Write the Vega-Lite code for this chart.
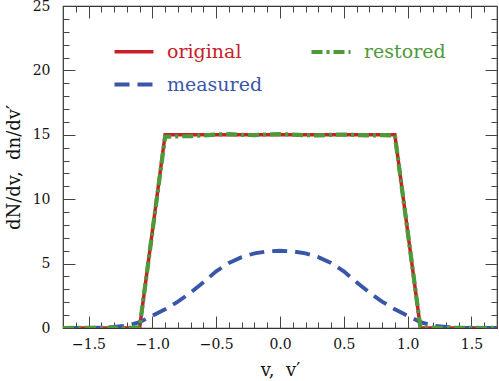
{
  "$schema": "https://vega.github.io/schema/vega-lite/v6.json",
  "width": 434,
  "height": 322,
  "autosize": {"type": "none"},
  "padding": {"left": 63, "top": 6, "right": 2, "bottom": 53},
  "background": "white",
  "config": {
    "view": {"stroke": "#333", "strokeWidth": 1.2},
    "font": "DejaVu Serif",
    "axis": {"grid": false, "domain": false, "tickColor": "#444", "tickWidth": 1, "labelFont": "DejaVu Serif", "labelFontSize": 14, "labelColor": "#111", "titleFont": "DejaVu Serif", "titleFontSize": 18, "titleFontWeight": "normal", "titleColor": "#111"}
  },
  "data": {"values": [
    {"v": -1.7, "y": 0, "s": "original"},
    {"v": -1.1, "y": 0, "s": "original"},
    {"v": -0.9, "y": 15, "s": "original"},
    {"v": 0.9, "y": 15, "s": "original"},
    {"v": 1.1, "y": 0, "s": "original"},
    {"v": 1.7, "y": 0, "s": "original"},
    {"v": -1.7, "y": 0, "s": "measured"},
    {"v": -1.6, "y": 0, "s": "measured"},
    {"v": -1.5, "y": 0.01, "s": "measured"},
    {"v": -1.4, "y": 0.03, "s": "measured"},
    {"v": -1.3, "y": 0.08, "s": "measured"},
    {"v": -1.2, "y": 0.18, "s": "measured"},
    {"v": -1.1, "y": 0.45, "s": "measured"},
    {"v": -1.0, "y": 0.95, "s": "measured"},
    {"v": -0.9, "y": 1.45, "s": "measured"},
    {"v": -0.8, "y": 2.05, "s": "measured"},
    {"v": -0.7, "y": 2.75, "s": "measured"},
    {"v": -0.6, "y": 3.55, "s": "measured"},
    {"v": -0.5, "y": 4.4, "s": "measured"},
    {"v": -0.4, "y": 5.05, "s": "measured"},
    {"v": -0.3, "y": 5.5, "s": "measured"},
    {"v": -0.2, "y": 5.8, "s": "measured"},
    {"v": -0.1, "y": 5.95, "s": "measured"},
    {"v": 0.0, "y": 6.0, "s": "measured"},
    {"v": 0.1, "y": 5.95, "s": "measured"},
    {"v": 0.2, "y": 5.8, "s": "measured"},
    {"v": 0.3, "y": 5.5, "s": "measured"},
    {"v": 0.4, "y": 5.05, "s": "measured"},
    {"v": 0.5, "y": 4.4, "s": "measured"},
    {"v": 0.6, "y": 3.55, "s": "measured"},
    {"v": 0.7, "y": 2.75, "s": "measured"},
    {"v": 0.8, "y": 2.05, "s": "measured"},
    {"v": 0.9, "y": 1.45, "s": "measured"},
    {"v": 1.0, "y": 0.95, "s": "measured"},
    {"v": 1.1, "y": 0.45, "s": "measured"},
    {"v": 1.2, "y": 0.18, "s": "measured"},
    {"v": 1.3, "y": 0.08, "s": "measured"},
    {"v": 1.4, "y": 0.03, "s": "measured"},
    {"v": 1.5, "y": 0.01, "s": "measured"},
    {"v": 1.6, "y": 0, "s": "measured"},
    {"v": 1.7, "y": 0, "s": "measured"},
    {"v": -1.7, "y": 0, "s": "restored"},
    {"v": -1.6, "y": 0.02, "s": "restored"},
    {"v": -1.5, "y": 0.01, "s": "restored"},
    {"v": -1.4, "y": 0.0, "s": "restored"},
    {"v": -1.3, "y": 0.02, "s": "restored"},
    {"v": -1.2, "y": 0.01, "s": "restored"},
    {"v": -1.1, "y": 0.05, "s": "restored"},
    {"v": -1.0, "y": 7.45, "s": "restored"},
    {"v": -0.9, "y": 14.85, "s": "restored"},
    {"v": -0.8, "y": 14.88, "s": "restored"},
    {"v": -0.7, "y": 14.9, "s": "restored"},
    {"v": -0.6, "y": 14.95, "s": "restored"},
    {"v": -0.5, "y": 15.02, "s": "restored"},
    {"v": -0.4, "y": 15.05, "s": "restored"},
    {"v": -0.3, "y": 15.0, "s": "restored"},
    {"v": -0.2, "y": 14.97, "s": "restored"},
    {"v": -0.1, "y": 15.03, "s": "restored"},
    {"v": 0.0, "y": 15.06, "s": "restored"},
    {"v": 0.1, "y": 15.02, "s": "restored"},
    {"v": 0.2, "y": 14.97, "s": "restored"},
    {"v": 0.3, "y": 14.95, "s": "restored"},
    {"v": 0.4, "y": 15.0, "s": "restored"},
    {"v": 0.5, "y": 15.02, "s": "restored"},
    {"v": 0.6, "y": 14.98, "s": "restored"},
    {"v": 0.7, "y": 14.95, "s": "restored"},
    {"v": 0.8, "y": 14.97, "s": "restored"},
    {"v": 0.9, "y": 14.95, "s": "restored"},
    {"v": 1.0, "y": 7.5, "s": "restored"},
    {"v": 1.1, "y": 0.05, "s": "restored"},
    {"v": 1.2, "y": 0.02, "s": "restored"},
    {"v": 1.3, "y": 0.0, "s": "restored"},
    {"v": 1.4, "y": 0.01, "s": "restored"},
    {"v": 1.5, "y": 0.02, "s": "restored"},
    {"v": 1.6, "y": 0.0, "s": "restored"},
    {"v": 1.7, "y": 0.01, "s": "restored"}
  ]},
  "resolve": {"axis": {"x": "independent", "y": "independent"}},
  "layer": [
    {
      "mark": {"type": "line", "clip": true},
      "encoding": {
        "x": {"field": "v", "type": "quantitative", "scale": {"domain": [-1.7, 1.7], "nice": false, "zero": false},
          "axis": {"orient": "bottom", "values": [-1.5, -1, -0.5, 0, 0.5, 1, 1.5], "format": ".1f", "tickSize": -12, "labelPadding": 21, "title": "v,\u00a0 v′", "titlePadding": 10}},
        "y": {"field": "y", "type": "quantitative", "scale": {"domain": [0, 25], "nice": false},
          "axis": {"orient": "left", "values": [0, 5, 10, 15, 20, 25], "format": "d", "tickSize": -12, "labelPadding": 25, "title": "dN/dv,\u00a0 dn/dv′", "titlePadding": 9}},
        "color": {"field": "s", "type": "nominal",
          "scale": {"domain": ["original", "measured", "restored"], "range": ["#c8202a", "#3a56a8", "#4f9a38"]},
          "legend": {"orient": "none", "legendX": 49, "legendY": 24, "columns": 2, "title": null, "padding": 0,
            "symbolType": "stroke", "symbolSize": 1521, "symbolStrokeWidth": 3.5, "labelFont": "DejaVu Serif", "labelFontSize": 19, "labelOffset": 11, "columnPadding": 40, "rowPadding": 1,
            "encode": {"labels": {"update": {"fill": {"scale": "color", "field": "value"}}}}}},
        "strokeDash": {"field": "s", "type": "nominal",
          "scale": {"domain": ["original", "measured", "restored"], "range": [[1, 0], [15, 8], [11, 4, 3, 4]]},
          "legend": null},
        "strokeWidth": {"field": "s", "type": "nominal",
          "scale": {"domain": ["original", "measured", "restored"], "range": [3.5, 4.2, 3.5]},
          "legend": null},
        "order": {"field": "v", "type": "quantitative"}
      }
    },
    {
      "mark": {"type": "point", "opacity": 0},
      "encoding": {
        "x": {"field": "v", "type": "quantitative", "axis": {"orient": "bottom", "values": [-1.7, -1.6, -1.5, -1.4, -1.3, -1.2, -1.1, -1, -0.9, -0.8, -0.7, -0.6, -0.5, -0.4, -0.3, -0.2, -0.1, 0, 0.1, 0.2, 0.3, 0.4, 0.5, 0.6, 0.7, 0.8, 0.9, 1, 1.1, 1.2, 1.3, 1.4, 1.5, 1.6, 1.7], "tickSize": -6, "labels": false, "title": null}},
        "y": {"field": "y", "type": "quantitative", "axis": {"orient": "left", "values": [0, 1, 2, 3, 4, 5, 6, 7, 8, 9, 10, 11, 12, 13, 14, 15, 16, 17, 18, 19, 20, 21, 22, 23, 24, 25], "tickSize": -6, "labels": false, "title": null}}
      }
    },
    {
      "mark": {"type": "point", "opacity": 0},
      "encoding": {
        "x": {"field": "v", "type": "quantitative", "axis": {"orient": "top", "values": [-1.5, -1, -0.5, 0, 0.5, 1, 1.5], "tickSize": -12, "labels": false, "title": null}},
        "y": {"field": "y", "type": "quantitative", "axis": {"orient": "right", "values": [0, 5, 10, 15, 20, 25], "tickSize": -12, "labels": false, "title": null}}
      }
    },
    {
      "mark": {"type": "point", "opacity": 0},
      "encoding": {
        "x": {"field": "v", "type": "quantitative", "axis": {"orient": "top", "values": [-1.7, -1.6, -1.5, -1.4, -1.3, -1.2, -1.1, -1, -0.9, -0.8, -0.7, -0.6, -0.5, -0.4, -0.3, -0.2, -0.1, 0, 0.1, 0.2, 0.3, 0.4, 0.5, 0.6, 0.7, 0.8, 0.9, 1, 1.1, 1.2, 1.3, 1.4, 1.5, 1.6, 1.7], "tickSize": -6, "labels": false, "title": null}},
        "y": {"field": "y", "type": "quantitative", "axis": {"orient": "right", "values": [0, 1, 2, 3, 4, 5, 6, 7, 8, 9, 10, 11, 12, 13, 14, 15, 16, 17, 18, 19, 20, 21, 22, 23, 24, 25], "tickSize": -6, "labels": false, "title": null}}
      }
    }
  ]
}
